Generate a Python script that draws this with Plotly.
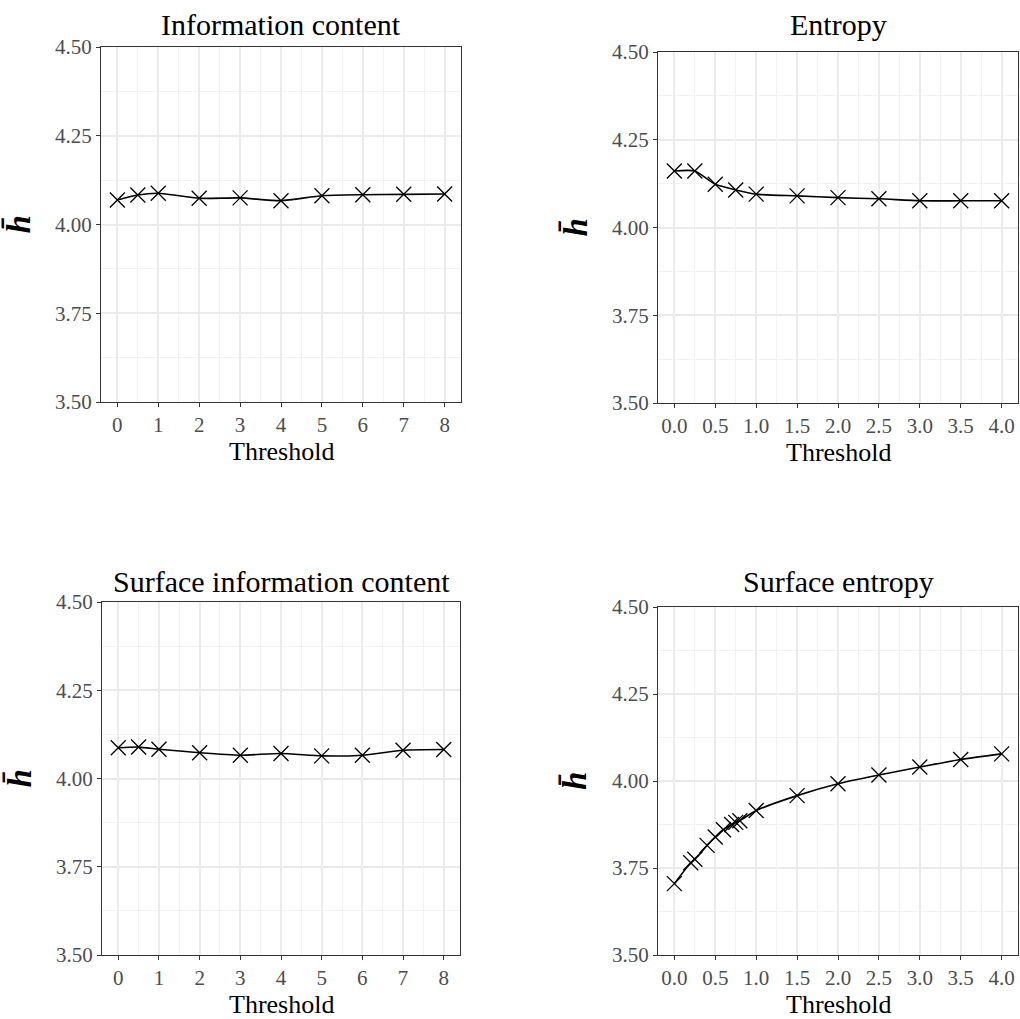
import plotly.graph_objects as go

# Mean h-bar values for each thresholding method
ic_threshold = [0, 0.5, 1, 2, 3, 4, 5, 6, 7, 8]
ic_h = [4.069, 4.083, 4.088, 4.074, 4.075, 4.067, 4.081, 4.084, 4.085, 4.086]

ent_threshold = [0, 0.25, 0.5, 0.75, 1.0, 1.5, 2.0, 2.5, 3.0, 3.5, 4.0]
ent_h = [4.161, 4.161, 4.123, 4.107, 4.095, 4.090, 4.085, 4.082, 4.076, 4.076, 4.076]

sic_threshold = [0, 0.5, 1, 2, 3, 4, 5, 6, 7, 8]
sic_h = [4.087, 4.089, 4.083, 4.073, 4.066, 4.071, 4.064, 4.066, 4.080, 4.082]

sent_threshold = [0, 0.2, 0.25, 0.4, 0.5, 0.6, 0.7, 0.75, 0.8, 1.0, 1.5, 2.0, 2.5, 3.0, 3.5, 4.0]
sent_h = [3.705, 3.765, 3.775, 3.815, 3.839, 3.860, 3.875, 3.881, 3.886, 3.915,
          3.958, 3.992, 4.017, 4.040, 4.062, 4.078]

panel_titles = ["Information content", "Entropy", "Surface information content", "Surface entropy"]
x_title = "Threshold"
y_title = "<b><i>h\u0304</i></b>"

W, H = 1020, 1019
SERIF = "Liberation Serif"
TICK_GREY = "#4D4D4D"
BORDER = "#333333"
GRID = "#EBEBEB"
GRID_MINOR = "#F2F2F2"
AXIS_TITLE_SIZE = 26

# panel pixel boxes: left, right, top, bottom
boxes = [(101, 461, 47, 402), (658, 1018, 52, 403),
         (102, 460, 602, 955), (658, 1018, 607, 955)]
# vertical centre of the title row above each panel
title_rows = [24, 24, 581, 581]
# vertical centre of the x-axis title below each panel (kept inside the page)
half_title = AXIS_TITLE_SIZE * 1.11 / 2
xtitle_rows = [min(b + 49, H - half_title) for (_, _, _, b) in boxes]

series = [(ic_threshold, ic_h), (ent_threshold, ent_h),
          (sic_threshold, sic_h), (sent_threshold, sent_h)]

xcfg = [dict(range=[-0.4, 8.4], dtick=1, minor=0.5, fmt="d"),
        dict(range=[-0.2, 4.2], dtick=0.5, minor=0.25, fmt=".1f"),
        dict(range=[-0.4, 8.4], dtick=1, minor=0.5, fmt="d"),
        dict(range=[-0.2, 4.2], dtick=0.5, minor=0.25, fmt=".1f")]

fig = go.Figure()
annotations = []
layout_axes = {}

for i, ((l, r, t, b), (xs, ys), xc, title, ty, xty) in enumerate(
        zip(boxes, series, xcfg, panel_titles, title_rows, xtitle_rows)):
    n = "" if i == 0 else str(i + 1)
    fig.add_trace(go.Scatter(
        x=xs, y=ys, mode="lines+markers",
        xaxis="x" + n, yaxis="y" + n,
        line=dict(color="black", width=1.6, shape="spline", smoothing=0.6),
        marker=dict(symbol="x-thin", size=15, line=dict(color="black", width=1.3)),
        showlegend=False, hoverinfo="x+y",
    ))
    xd = [l / W, r / W]
    yd = [1 - b / H, 1 - t / H]
    common = dict(showline=True, mirror=True, linecolor=BORDER, linewidth=1.3,
                  ticks="outside", ticklen=4, tickwidth=1.2, tickcolor=BORDER,
                  tickfont=dict(family=SERIF, size=21, color=TICK_GREY),
                  showgrid=True, gridcolor=GRID, gridwidth=1.6, zeroline=False,
                  automargin=False)
    layout_axes["xaxis" + n] = dict(
        domain=xd, anchor="y" + n, range=xc["range"], tick0=0, dtick=xc["dtick"],
        tickformat=xc["fmt"],
        minor=dict(showgrid=True, tick0=0, dtick=xc["minor"], gridcolor=GRID_MINOR, gridwidth=1),
        **common)
    layout_axes["yaxis" + n] = dict(
        domain=yd, anchor="x" + n, range=[3.5, 4.5], tick0=3.5, dtick=0.25,
        tickformat=".2f",
        minor=dict(showgrid=True, tick0=3.5, dtick=0.125, gridcolor=GRID_MINOR, gridwidth=1),
        **common)
    xc_mid = (xd[0] + xd[1]) / 2
    # panel title
    annotations.append(dict(
        text=title, x=xc_mid, y=1 - ty / H, xref="paper", yref="paper",
        xanchor="center", yanchor="middle", showarrow=False, borderpad=0,
        font=dict(family=SERIF, size=30, color="black")))
    # x-axis title
    annotations.append(dict(
        text=x_title, x=xc_mid, y=1 - xty / H, xref="paper", yref="paper",
        xanchor="center", yanchor="middle", showarrow=False, borderpad=0,
        font=dict(family=SERIF, size=AXIS_TITLE_SIZE, color="black")))
    # y-axis label
    annotations.append(dict(
        text=y_title, x=(l - 83) / W, y=(yd[0] + yd[1]) / 2, xref="paper", yref="paper",
        xanchor="center", yanchor="middle", textangle=-90, showarrow=False,
        font=dict(family=SERIF, size=33, color="black")))

fig.update_layout(
    width=W, height=H, margin=dict(l=0, r=0, t=0, b=0, autoexpand=False),
    paper_bgcolor="white", plot_bgcolor="white",
    annotations=annotations, **layout_axes)

fig.write_html("out.html")
